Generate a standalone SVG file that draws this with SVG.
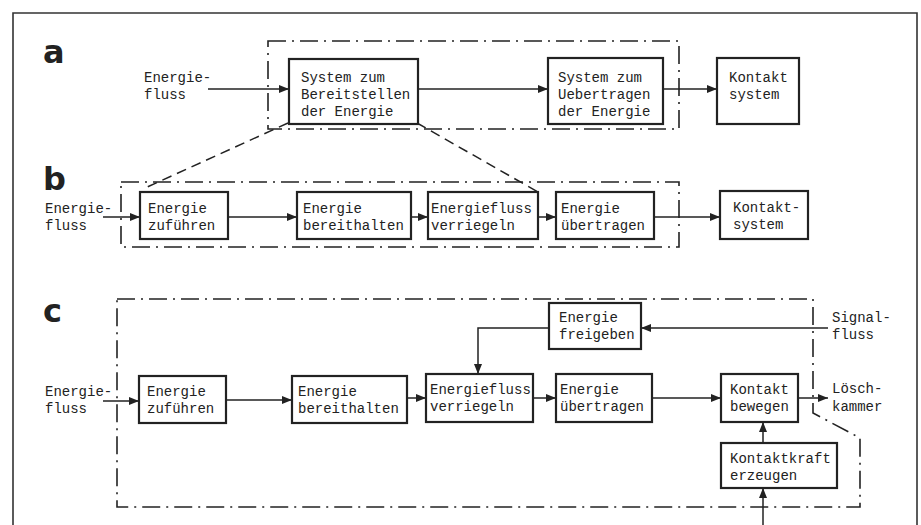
<svg xmlns="http://www.w3.org/2000/svg" width="921" height="525" viewBox="0 0 921 525">
<style>
.box{fill:#fff;stroke:#222;stroke-width:2.2}
.t{font-family:"Liberation Mono","DejaVu Sans Mono",monospace;font-size:14px;fill:#222}
.lab{font-family:"DejaVu Sans","Liberation Sans",sans-serif;font-weight:bold;font-size:32px;fill:#222}
.ln{fill:none;stroke:#222;stroke-width:1.5}
.dd{fill:none;stroke:#222;stroke-width:1.6;stroke-dasharray:18 6 2 6}
.da{fill:none;stroke:#222;stroke-width:1.5;stroke-dasharray:10 6}
</style>
<defs>
<marker id="ah" viewBox="0 0 10 8" refX="10" refY="4" markerWidth="10" markerHeight="8" markerUnits="userSpaceOnUse" orient="auto">
<path d="M0,0 L10,4 L0,8 Z" fill="#222"/>
</marker>
</defs>
<rect width="921" height="525" fill="#fff"/>
<path d="M13,525 V13 H917 V525" fill="none" stroke="#333" stroke-width="1.6"/>

<g id="frames">
<rect class="dd" x="268" y="41" width="411" height="88"/>
<rect class="dd" x="121" y="182" width="558" height="65"/>
<path class="dd" d="M117,299 H813 V413 L860,438 V507 H117 Z"/>
<path class="da" d="M288,123 L145,188"/>
<path class="da" d="M417,123 L538,192"/>
</g>

<g id="labels">
<text class="lab" x="43" y="63">a</text>
<text class="lab" x="43" y="190">b</text>
<text class="lab" x="43" y="322">c</text>
<text class="t" x="144" y="82">Energie-</text>
<text class="t" x="144" y="99">fluss</text>
<text class="t" x="45" y="213">Energie-</text>
<text class="t" x="45" y="230">fluss</text>
<text class="t" x="45" y="396">Energie-</text>
<text class="t" x="45" y="413">fluss</text>
<text class="t" x="832" y="322">Signal-</text>
<text class="t" x="832" y="339">fluss</text>
<text class="t" x="832" y="393">Lösch-</text>
<text class="t" x="832" y="411">kammer</text>
</g>

<g id="connectors">
<line class="ln" x1="208" y1="89" x2="289" y2="89" marker-end="url(#ah)"/>
<line class="ln" x1="418" y1="89" x2="548" y2="89" marker-end="url(#ah)"/>
<line class="ln" x1="663" y1="89" x2="717" y2="89" marker-end="url(#ah)"/>
<line class="ln" x1="103" y1="217" x2="140" y2="217" marker-end="url(#ah)"/>
<line class="ln" x1="228" y1="217" x2="297" y2="217" marker-end="url(#ah)"/>
<line class="ln" x1="411" y1="217" x2="428" y2="217" marker-end="url(#ah)"/>
<line class="ln" x1="538" y1="217" x2="556" y2="217" marker-end="url(#ah)"/>
<line class="ln" x1="654" y1="217" x2="720" y2="217" marker-end="url(#ah)"/>
<line class="ln" x1="103" y1="401" x2="139" y2="401" marker-end="url(#ah)"/>
<line class="ln" x1="226" y1="400" x2="292" y2="400" marker-end="url(#ah)"/>
<line class="ln" x1="407" y1="398" x2="426" y2="398" marker-end="url(#ah)"/>
<line class="ln" x1="533" y1="398" x2="556" y2="398" marker-end="url(#ah)"/>
<line class="ln" x1="652" y1="398" x2="721" y2="398" marker-end="url(#ah)"/>
<line class="ln" x1="798" y1="398" x2="828" y2="398" marker-end="url(#ah)"/>
<line class="ln" x1="828" y1="328" x2="641" y2="328" marker-end="url(#ah)"/>
<path class="ln" d="M549,328 H478 V374" marker-end="url(#ah)"/>
<line class="ln" x1="763" y1="443" x2="763" y2="422" marker-end="url(#ah)"/>
<line class="ln" x1="763" y1="525" x2="763" y2="488" marker-end="url(#ah)"/>
</g>

<g id="a1"><rect class="box" x="289" y="59" width="129" height="65"/>
<text class="t" x="301" y="82">System zum</text><text class="t" x="301" y="99">Bereitstellen</text><text class="t" x="301" y="116">der Energie</text></g>
<g id="a2"><rect class="box" x="548" y="58" width="115" height="66"/>
<text class="t" x="558" y="82">System zum</text><text class="t" x="558" y="99">Uebertragen</text><text class="t" x="558" y="116">der Energie</text></g>
<g id="a3"><rect class="box" x="717" y="58" width="82" height="66"/>
<text class="t" x="729" y="82">Kontakt</text><text class="t" x="729" y="99">system</text></g>

<g id="b1"><rect class="box" x="140" y="192" width="88" height="47"/>
<text class="t" x="148" y="213">Energie</text><text class="t" x="148" y="230">zuführen</text></g>
<g id="b2"><rect class="box" x="297" y="192" width="114" height="47"/>
<text class="t" x="303" y="213">Energie</text><text class="t" x="303" y="230">bereithalten</text></g>
<g id="b3"><rect class="box" x="428" y="192" width="110" height="47"/>
<text class="t" x="431" y="213">Energiefluss</text><text class="t" x="431" y="230">verriegeln</text></g>
<g id="b4"><rect class="box" x="556" y="192" width="98" height="47"/>
<text class="t" x="561" y="213">Energie</text><text class="t" x="561" y="230">übertragen</text></g>
<g id="b5"><rect class="box" x="720" y="191" width="88" height="48"/>
<text class="t" x="733" y="212">Kontakt-</text><text class="t" x="733" y="229">system</text></g>

<g id="c1"><rect class="box" x="139" y="376" width="87" height="47"/>
<text class="t" x="147" y="396">Energie</text><text class="t" x="147" y="413">zuführen</text></g>
<g id="c2"><rect class="box" x="292" y="376" width="115" height="47"/>
<text class="t" x="298" y="396">Energie</text><text class="t" x="298" y="413">bereithalten</text></g>
<g id="c3"><rect class="box" x="426" y="374" width="107" height="48"/>
<text class="t" x="430" y="394">Energiefluss</text><text class="t" x="430" y="411">verriegeln</text></g>
<g id="c4"><rect class="box" x="556" y="374" width="96" height="48"/>
<text class="t" x="560" y="394">Energie</text><text class="t" x="560" y="411">übertragen</text></g>
<g id="c5"><rect class="box" x="721" y="374" width="77" height="48"/>
<text class="t" x="730" y="394">Kontakt</text><text class="t" x="730" y="411">bewegen</text></g>
<g id="c6"><rect class="box" x="549" y="303" width="92" height="46"/>
<text class="t" x="559" y="322">Energie</text><text class="t" x="559" y="339">freigeben</text></g>
<g id="c7"><rect class="box" x="721" y="443" width="116" height="45"/>
<text class="t" x="730" y="463">Kontaktkraft</text><text class="t" x="730" y="480">erzeugen</text></g>
</svg>
